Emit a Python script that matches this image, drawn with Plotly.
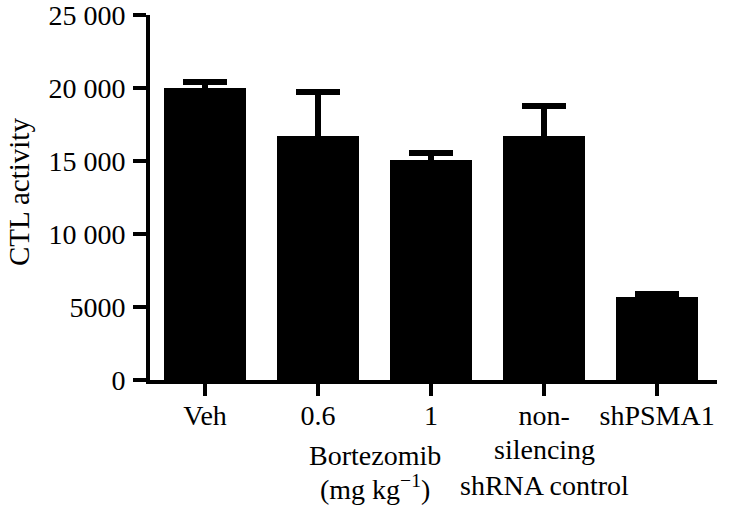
import plotly.graph_objects as go

categories = ["Veh", "0.6", "1", "non-silencing", "shPSMA1"]
tick_labels = ["Veh", "0.6", "1", "non-", "shPSMA1"]
ctl_activity = [20000, 16700, 15100, 16700, 5700]
ctl_error = [400, 3000, 470, 2100, 220]
y_tickvals = [0, 5000, 10000, 15000, 20000, 25000]
y_ticktext = ["0", "5000", "10 000", "15 000", "20 000", "25 000"]

FONT = "Liberation Serif"
FS = 28

x_pos = list(range(len(categories)))

fig = go.Figure()
fig.add_trace(go.Bar(
    x=x_pos, y=ctl_activity, width=0.72,
    marker=dict(color="black", line=dict(width=0)),
    error_y=dict(type="data", array=ctl_error, symmetric=True,
                 color="black", thickness=6, width=22),
    showlegend=False,
))

W, H = 751, 508
# plot area in window pixels: x 150..717, y 15..380
L, T = 150, 15
R = W - 717
B = H - 380
pw, ph = W - L - R, H - T - B

def win_y(py):
    return (380 - py) / ph

def win_x(px):
    return (px - 150) / pw

txt = dict(family=FONT, size=FS, color="black")
annotations = [
    dict(text="silencing", x=3, xref="x", y=win_y(449), yref="paper",
         showarrow=False, font=txt, yanchor="middle"),
    dict(text="shRNA control", x=3, xref="x", y=win_y(486), yref="paper",
         showarrow=False, font=txt, yanchor="middle"),
    dict(text="Bortezomib", x=1.5, xref="x", y=win_y(455), yref="paper",
         showarrow=False, font=txt, yanchor="middle"),
    dict(text="(mg kg<sup>−1</sup>)", x=1.5, xref="x", y=win_y(487), yref="paper",
         showarrow=False, font=txt, yanchor="middle"),
    dict(text="CTL activity", textangle=-90, x=win_x(19), xref="paper",
         y=win_y(192), yref="paper", showarrow=False,
         font=dict(family=FONT, size=FS + 1, color="black"), xanchor="center", yanchor="middle"),
]

fig.update_layout(
    width=W, height=H,
    margin=dict(l=L, r=R, t=T, b=B, autoexpand=False),
    plot_bgcolor="white", paper_bgcolor="white",
    font=txt,
    bargap=0,
    annotations=annotations,
    xaxis=dict(
        range=[-0.487, 4.53], tickvals=x_pos, ticktext=tick_labels,
        showline=True, linecolor="black", linewidth=4,
        ticks="outside", ticklen=12, tickwidth=4, tickcolor="black",
        showgrid=False, zeroline=False, ticklabelstandoff=-5,
        tickfont=txt, ticklabeloverflow="allow",
    ),
    yaxis=dict(
        range=[0, 25000], tickvals=y_tickvals, ticktext=y_ticktext,
        showline=True, linecolor="black", linewidth=4,
        ticks="outside", ticklen=13, tickwidth=4, tickcolor="black",
        showgrid=False, zeroline=False, ticklabelstandoff=2,
        tickfont=txt, ticklabeloverflow="allow",
    ),
)

# remove the page's default body margin so the 751x508 figure fills the window exactly
fig.write_html("out.html", config={"displayModeBar": False},
               post_script="document.body.style.margin='0';")
